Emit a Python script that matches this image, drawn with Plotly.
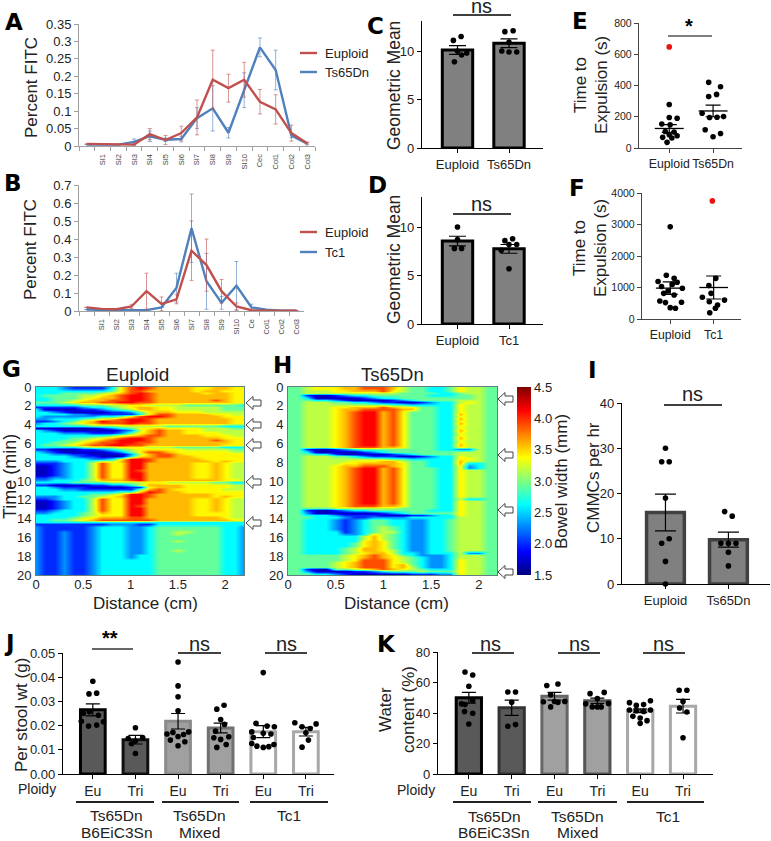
import plotly.graph_objects as go

W, H = 771, 841
FONT = "Liberation Sans"
RED, BLUE = "#C0504D", "#4F81BD"
REDP, BLUEP = "rgba(192,80,77,0.6)", "rgba(79,129,189,0.6)"

# ---- panels A / B
A_CATS = [" ", "SI1", "SI2", "SI3", "SI4", "SI5", "SI6", "SI7", "SI8", "SI9", "SI10", "Cec", "Col1", "Col2", "Col3"]
A_EU = [.006, .005, .004, .004, .034, .017, .037, .082, .19, .166, .19, .127, .105, .037, .008]
A_EU_ERR = [0, 0, 0, .002, .016, .013, .02, .05, .085, .04, .05, .035, .042, .023, .002]
A_TS = [.004, .004, .004, .012, .028, .018, .02, .08, .108, .038, .16, .283, .218, .03, .007]
A_TS_ERR = [0, 0, 0, .008, .015, .005, .008, .03, .065, .015, .05, .027, .057, .006, .004]
B_CATS = [" ", "SI1", "SI2", "SI3", "SI4", "SI5", "SI6", "SI7", "SI8", "SI9", "SI10", "Ce", "Col1", "Col2", "Col3"]
B_EU = [.02, .012, .01, .025, .11, .04, .065, .335, .255, .11, .025, .004, .002, .001, .001]
B_EU_ERR = [0, 0, 0, .012, .1, .038, .025, .165, .145, .065, .02, 0, 0, 0, 0]
B_TC = [.008, .005, .004, .004, .005, .02, .13, .46, .165, .045, .14, .02, .007, .002, .001]
B_TC_ERR = [0, 0, 0, 0, 0, 0, .08, .19, .155, .035, .135, .018, 0, 0, 0]

# ---- panels C / D
C_LABELS = ["Euploid", "Ts65Dn"]
C_MEANS = [10.1, 10.8]
C_ERR = [.45, .45]
C_PX = [.07, -.08, 0, .18, .08, -.06, 1 - .08, 1 + .08, 1, 1 - .14, 1, 1 + .15]
C_PY = [11.5, 11.1, 10, 9.8, 9.6, 8.9, 12, 12.1, 10.9, 10, 9.9, 9.9]
D_LABELS = ["Euploid", "Tc1"]
D_MEANS = [8.55, 7.75]
D_ERR = [.5, .45]
D_PX = [0, 0, -.06, .08, 1 - .08, 1 + .07, 1 + .15, 1, 1 - .15, 1]
D_PY = [10, 8.7, 7.8, 7.8, 8.6, 8.8, 8.2, 8.2, 7.6, 5.7]

# ---- panels E / F
E_PX = [0, 0, .18, -.17, .02, -.09, .11, .18, 0, -.15, .06, -.05,
        .9, 1.17, 1.08, .9, .75, .92, 1.09, 1.24, .82, 1.17, 1]
E_PY = [278, 195, 190, 153, 148, 106, 102, 78, 85, 68, 64, 36,
        420, 392, 343, 329, 222, 195, 197, 201, 117, 93, 72]
E_RED_X, E_RED_Y = [0], [647]
E_MEANS, E_ERR = [125, 237], [25, 37]
F_PX = [0, -.09, .09, -.28, .05, .16, -.2, -.05, .28, -.15, .09, -.24, -.11, .26, 0, .12,
        1.05, .89, .94, .74, 1.25, .9, 1.09, 1.04, .91]
F_PY = [2925, 1390, 1290, 1190, 1100, 1165, 1030, 890, 975, 815, 760, 570, 520, 530, 360, 340,
        1290, 1060, 815, 690, 600, 550, 445, 340, 200]
F_RED_X, F_RED_Y = [.97], [3750]
F_MEANS, F_ERR = [980, 1000], [200, 365]

# ---- panels G / H: hand-read colour levels of the kymographs, one digit per 0.1 cm, one row per 0.25 min
LEVELS = [1.7, 2.0, 2.3, 2.62, 2.92, 3.18, 3.4, 3.58, 3.9, 4.12]
G_ROWS = [
 "33321111368987777667766", "33333333468877777677666", "33344445678987777767766", "34444556789987777777766",
 "33444567789987777777766", "33445677889987777778766", "44456778899887777777766", "33333444556655554444443",
 "11111233456776655555444", "30000112345776655555444", "33210000112467766655555", "33332211111368877776655",
 "32222223346899877777666", "22333456789987777777766", "11234679889987777777766", "23345678889887777777766",
 "33333344455555444444333", "00000001234667666655544", "32100000012578776655555", "33322211124678776666555",
 "33333333456788777766655", "33334456789987777777666", "33344567899987777778766", "33445678899887777777766",
 "34456788998877777777666", "33333455566655544444333", "11000112345666665555544", "32100000124688766666655",
 "33221100002578876666666", "33332110003678877666666", "33333322369987777766666", "22233345579987777776766",
 "11123358669977777667655", "00123358669977777667655", "00123358669977777667655", "00123358669877777667655",
 "00123358669977777667655", "00123358669977777667655", "11223358669977777667655", "22333457778977777777665",
 "33334444555566555554433", "11000011223577776666655", "33211100001167776666655", "33322111111478766666555",
 "33333333344798776666666", "33333344569987777776666", "22233445679987777776766", "11233358669977777667655",
 "00123358669977777667655", "00123358669977777667655", "00123358669877777667655", "00123358669977777667655",
 "11233358669977777667655", "22333457669977777666655", "33333456669977777666655", "33334567778877777777655",
 "33445678888887777777766", "33333333333333333333333", "11111111222113333333333", "21111123332234444444332",
 "21111123332234444444332", "21121123332234455444332", "21121123332234454444332", "21121123332234444444332",
 "21121123332234444444332", "21121123332234454444332", "21121123332234444444332", "21121123332234444444332",
 "21121123332234444444332", "21121123332234454444332", "21121123332234444444332", "21121123332334444444332",
 "21121123332334444444332", "21121123333334444444332", "21121123333334444444332", "21121123333334444444332",
 "21121123333334444444332", "21121123333334444444332", "21121123333334444444332", "21121123333334444444332",
]
H_ROWS = [
 "44566677888754433465544", "44555667778654433465544", "44555555555544443345544", "44100123344444433344544",
 "44300000123344444444544", "44433210000123444455544", "44555443321100123356544", "44555555555443333365544",
 "44555667778766443365544", "44555677888877443365544", "44555678997864443365544", "44555678997864443375544",
 "44555678997864443365544", "44555678997864443375544", "44555678997864443365544", "44555678997864443375544",
 "44555678997864443365544", "44555678997864443365544", "44555678997864443375544", "44555678997864443365544",
 "44555678997864443365544", "44555678997864443375544", "44555678997864443365544", "44555678997864443365544",
 "44555678997864443375544", "44555678887764443365544", "44100123444444443322544", "44300000123444444455544",
 "44433100000123444455544", "44555443211100123365544", "44555555555443333366544", "44555556667754433375544",
 "44555566777764433373344", "44555677888764433362344", "44555678997864443362344", "44555678997864443365544",
 "44555678997864443365544", "44555678997864443365544", "44555678997864443365544", "44555678997864443365544",
 "44555678997864443365544", "44555678997864443365544", "44555678997864443365544", "44555678997864443365544",
 "44555678997864443365544", "44555678997864443365544", "44555678997864443365544", "44555678997864443353344",
 "44555678997864443365544", "44555678997864443365544", "44555678887764443365544", "44444555555544443365544",
 "44100123344444433365544", "44200000001234444465544", "44333211110001123365544", "44433321122223333355544",
 "44333212344332233455544", "44333212344332233455544", "44333212344332233455544", "44333212345432233455544",
 "44333212345432233455544", "44333312345532233455544", "44333322365432233455544", "44333333575432233455544",
 "44333333575432233455544", "44333333676432233455544", "44333334676432233455544", "44333334676432233455544",
 "44333345776432233455544", "44333345776532233455544", "44333345677533233352244", "44444456787643222355544",
 "44444456787654322355544", "44444456888654322365544", "44444567888654322365544", "44444567888674322365544",
 "44444567888675322365544", "44100445678765433365544", "44200001123444544465544", "44433210000001112265544",
]
HEAT_X = [0.1 * i for i in range(23)]
HEAT_Y = [0.125 + 0.25 * i for i in range(80)]
G_ARROW_PX = [403, 425, 445, 482, 523]
H_ARROW_PX = [399, 455, 510, 572]

# ---- panel I
I_LABELS = ["Euploid", "Ts65Dn"]
I_MEANS, I_ERR = [15.8, 9.8], [4.05, 1.65]
I_PX = [0, -.06, .06, 0, .06, -.06, 0, 0, 1 - .06, 1 + .06, 1 - .12, 1, 1 + .12, 1, 1]
I_PY = [30, 27, 27, 19, 10, 9, 5, 0, 16, 15, 9, 9, 9, 7, 4]

# ---- panels J / K
PLOIDY = ["Eu", "Tri", "Eu", "Tri", "Eu", "Tri"]
J_MEANS = [.0265, .0142, .0218, .019, .0175, .0175]
J_ERR = [.0025, .0018, .0032, .002, .0025, .0018]
J_PX = [0, -.09, .09, -.08, -.22, .13, .25, -.27, -.10, .09,
        1, 1.17, .83, 1, .91, 1,
        2, 2, 2, 2, 2.25, 1.88, 2.13, 1.74, 2, 1.82, 2.16, 2,
        3.08, 2.91, 3, 3.09, 2.88, 3.19, 2.84, 3, 2.91, 3.13,
        4, 3.83, 4.09, 4.26, 3.73, 4, 4.18, 3.77, 3.73, 4.25, 3.85, 4, 4.13,
        4.74, 4.91, 5.24, 5.10, 5, 5.06, 4.91]
J_PY = [.0383, .0331, .0334, .0257, .025, .0243, .0216, .0218, .0198, .0202,
        .0191, .0151, .0147, .0136, .0125, .0085,
        .0463, .0364, .0319, .0261, .0174, .0172, .0163, .0165, .0155, .014, .0133, .0117,
        .0284, .0268, .0225, .0205, .0177, .0154, .015, .0143, .011, .0122,
        .0419, .0209, .0198, .0195, .0174, .0168, .0165, .0151, .0126, .0122, .0115, .011, .0113,
        .0212, .0195, .0207, .0188, .017, .014, .0111]
K_MEANS = [50, 43.5, 51, 48, 41.5, 44.5]
K_ERR = [3.5, 5, 2.5, 1.7, 1.2, 4.5]
K_PX = [-.09, .09, 0, .09, -.17, -.09, -.1, .09, 0,
        .91, 1.09, 1, .91, 1.09,
        1.82, 2.08, 1.91, 1.74, 2, 2.08, 2.24, 1.91,
        2.83, 3.16, 3, 2.73, 2.88, 3, 3.26, 3.09,
        3.75, 3.91, 4.08, 4.24, 3.75, 3.91, 4.08, 4.24, 3.83, 4, 4.16, 4,
        4.91, 5.09, 5, 4.92, 5.09, 5]
K_PY = [66.9, 64.9, 57.5, 48.2, 46, 45.5, 41, 39.8, 32.8,
        53.8, 53.8, 47, 31.3, 32.4,
        58, 59, 52, 47.4, 47.5, 47, 47.6, 44,
        52.7, 53.5, 49.4, 46, 44, 44, 46.3, 44,
        46.8, 45, 45.5, 48, 42, 41.5, 41, 42, 37.8, 36.7, 35, 33.2,
        54.9, 54.9, 47.6, 43.3, 40.7, 23.8]
PLOIDY_FILL = ["#595959", "#595959", "#a0a0a0", "#a0a0a0", "#ffffff", "#ffffff"]
PLOIDY_EDGE_J = ["#000000", "#111111", "#8a8a8a", "#707070", "#a8a8a8", "#a8a8a8"]
PLOIDY_EDGE_K = ["#000000", "#333333", "#666666", "#555555", "#a8a8a8", "#a8a8a8"]

JET = [[0, "#00007f"], [.125, "#0000ff"], [.375, "#00ffff"], [.625, "#ffff00"], [.875, "#ff0000"], [1, "#7f0000"]]

fig = go.Figure()
layout = dict(width=W, height=H, margin=dict(l=0, r=0, t=0, b=0, autoexpand=False), showlegend=False,
              paper_bgcolor="white", plot_bgcolor="rgba(0,0,0,0)",
              font=dict(family=FONT, color="#222222", size=13))
shapes, annots = [], []


def fx(p):
    return p / W


def fy(p):
    return 1 - p / H


def add_axes(n, x0, x1, top, bot, xopts, yopts):
    s = "" if n == 1 else str(n)
    xo = dict(domain=[fx(x0), fx(x1)], anchor="y" + s, showgrid=False, zeroline=False)
    yo = dict(domain=[fy(bot), fy(top)], anchor="x" + s, showgrid=False, zeroline=False)
    xo.update(xopts)
    yo.update(yopts)
    layout["xaxis" + s] = xo
    layout["yaxis" + s] = yo
    return "x" + s, "y" + s


def text(t, x, y, size=13, angle=0, bold=False, color="#222222", anchor="center", family=FONT):
    annots.append(dict(text="<b>%s</b>" % t if bold else t, x=fx(x), y=fy(y), xref="paper", yref="paper",
                       showarrow=False, xanchor=anchor, yanchor="middle", textangle=angle,
                       font=dict(family=family, size=size, color=color)))


def pxline(x0, y0, x1, y1, color="#000000", width=1.3):
    shapes.append(dict(type="line", xref="paper", yref="paper", x0=fx(x0), x1=fx(x1), y0=fy(y0), y1=fy(y1),
                       line=dict(color=color, width=width)))


def arrow(x0, x1, y):
    n = x0 + 7
    pts = [(x0, y), (n, y - 6.5), (n, y - 3), (x1, y - 3), (x1, y + 3), (n, y + 3), (n, y + 6.5)]
    d = "M " + " L ".join("%.5f,%.5f" % (fx(a), fy(b)) for a, b in pts) + " Z"
    shapes.append(dict(type="path", xref="paper", yref="paper", path=d, fillcolor="white",
                       line=dict(color="#444444", width=1)))


def line_panel(n, box, cats, s1, e1, c1, p1, s2, e2, c2, p2, ymax, ticks, ticktext):
    xa, ya = add_axes(n, box[0], box[1], box[2], box[3],
                      dict(type="category", categoryorder="array", categoryarray=cats, tickson="boundaries",
                           range=[-.5, 14.5], showline=True, linecolor="#a0a0a0", linewidth=1, ticks="outside",
                           ticklen=4, tickcolor="#a0a0a0", tickangle=-90, tickmode="array", tickvals=cats, ticktext=cats,
                           tickfont=dict(size=7.5, color="#444444"), ticklabelstandoff=4),
                      dict(range=[0, ymax], showline=True, linecolor="#a0a0a0", linewidth=1, ticks="outside", ticklen=4,
                           tickcolor="#a0a0a0", tickvals=ticks, ticktext=ticktext, tickfont=dict(size=13)))
    for s, e, c, p in ((s2, e2, c2, p2), (s1, e1, c1, p1)):
        fig.add_trace(go.Scatter(x=cats, y=s, mode="lines", xaxis=xa, yaxis=ya, line=dict(color=c, width=2.4),
                                 error_y=dict(type="data", array=e, color=p, thickness=1, width=2)))


def bar_panel(n, box, xr, labels, means, errs, fills, edges, bw, lw, capw, ymax, ticks, ticktext,
              px_, py_, tick_size, standoff, msize=5.6, tick_y=13):
    xs = list(range(len(means)))
    xa, ya = add_axes(n, box[0], box[1], box[2], box[3],
                      dict(range=xr, showline=True, linecolor="#000000", linewidth=1.4, ticks="outside", ticklen=4,
                           tickwidth=1.2, tickcolor="#000000", tickvals=xs, ticktext=labels, tickangle=0,
                           tickfont=dict(size=tick_size), ticklabelstandoff=standoff),
                      dict(range=[0, ymax], showline=True, linecolor="#000000", linewidth=1.4, ticks="outside", ticklen=4,
                           tickwidth=1.2, tickcolor="#000000", tickvals=ticks, ticktext=ticktext,
                           tickfont=dict(size=tick_y)))
    fig.add_trace(go.Bar(x=xs, y=means, xaxis=xa, yaxis=ya, width=bw,
                         marker=dict(color=fills, line=dict(color=edges, width=lw)),
                         error_y=dict(type="data", array=errs, color="#000000", thickness=1.2, width=capw)))
    fig.add_trace(go.Scatter(x=px_, y=py_, mode="markers", xaxis=xa, yaxis=ya, cliponaxis=False,
                             marker=dict(color="#000000", size=msize)))


def dot_panel(n, box, xr, labels, means, errs, ymax, ticks, px_, py_, rx, ry):
    xa, ya = add_axes(n, box[0], box[1], box[2], box[3],
                      dict(range=xr, showline=True, linecolor="#444444", linewidth=1.4, ticks="outside", ticklen=4,
                           tickcolor="#444444", tickvals=[0, 1], ticktext=labels, tickangle=0, tickfont=dict(size=12.3),
                           ticklabelstandoff=0),
                      dict(range=[0, ymax], showline=True, linecolor="#444444", linewidth=1.4, ticks="outside", ticklen=4,
                           tickcolor="#444444", tickvals=ticks, tickfont=dict(size=10.5)))
    fig.add_trace(go.Scatter(x=px_, y=py_, mode="markers", xaxis=xa, yaxis=ya, cliponaxis=False,
                             marker=dict(color="#000000", size=5.6)))
    fig.add_trace(go.Scatter(x=rx, y=ry, mode="markers", xaxis=xa, yaxis=ya, cliponaxis=False,
                             marker=dict(color="#ee1111", size=5.6)))
    for i, (m, e) in enumerate(zip(means, errs)):
        fig.add_trace(go.Scatter(x=[i - .33, i + .33], y=[m, m], mode="lines", xaxis=xa, yaxis=ya,
                                 line=dict(color="#000000", width=1.3)))
        fig.add_trace(go.Scatter(x=[i], y=[m], mode="markers", xaxis=xa, yaxis=ya, marker=dict(size=1, color="#000000"),
                                 error_y=dict(type="data", array=[e], color="#000000", thickness=1.2, width=7.5)))


def heat_panel(n, box, rows, xmax, xlabel_x, colorbar=False):
    z = [[LEVELS[int(c)] for c in r.ljust(23, r[-1])[:23]] for r in rows]
    xa, ya = add_axes(n, box[0], box[1], box[2], box[3],
                      dict(range=[0, xmax], showline=True, mirror=True, linecolor="#5f7f80", linewidth=1,
                           tickvals=[0, .5, 1, 1.5, 2], ticktext=["0", "0.5", "1", "1.5", "2"], ticks="", tickangle=0,
                           tickfont=dict(size=13), ticklabelstandoff=-3),
                      dict(range=[20, 0], showline=True, mirror=True, linecolor="#5f7f80", linewidth=1,
                           tickvals=list(range(0, 21, 2)), ticks="", tickfont=dict(size=13), ticklabelstandoff=1))
    tr = dict(x=HEAT_X, y=HEAT_Y, z=z, xaxis=xa, yaxis=ya, colorscale=JET, zmin=1.5, zmax=4.5, zsmooth="best",
              showscale=colorbar)
    if colorbar:
        tr["colorbar"] = dict(x=fx(517), xanchor="left", y=fy(575), yanchor="bottom", len=188, lenmode="pixels",
                              thickness=14, thicknessmode="pixels", xpad=0, ypad=0, outlinewidth=0,
                              tickvals=[1.5, 2, 2.5, 3, 3.5, 4, 4.5], ticktext=["1.5", "2.0", "2.5", "3.0", "3.5", "4.0", "4.5"],
                              ticks="", tickfont=dict(size=13, family=FONT))
    fig.add_trace(go.Heatmap(**tr))
    text("Distance (cm)", xlabel_x, 603, size=17)


# A, B
line_panel(1, (79, 315, 24, 146), A_CATS, A_EU, A_EU_ERR, RED, REDP, A_TS, A_TS_ERR, BLUE, BLUEP, .35,
           [0, .05, .1, .15, .2, .25, .3, .35], ["0", "0.05", "0.1", "0.15", "0.2", "0.25", "0.3", "0.35"])
line_panel(2, (79, 304, 185, 311), B_CATS, B_EU, B_EU_ERR, RED, REDP, B_TC, B_TC_ERR, BLUE, BLUEP, .7,
           [0, .1, .2, .3, .4, .5, .6, .7], ["0", "0.1", "0.2", "0.3", "0.4", "0.5", "0.6", "0.7"])
text("Percent FITC", 31, 88, size=17, angle=-90)
text("Percent FITC", 31, 250, size=17, angle=-90)
for (lab, col, y) in (("Euploid", RED, 53), ("Ts65Dn", BLUE, 72), ("Euploid", RED, 232), ("Tc1", BLUE, 252)):
    pxline(300, y, 317, y, color=col, width=2.4)
    text(lab, 323, y, size=13, anchor="left")

# C, D
GR = ["#808080", "#808080"]
BK = ["#000000", "#000000"]
bar_panel(3, (422, 543, 21, 148), [-.689, 1.66], C_LABELS, C_MEANS, C_ERR, GR, BK, .59, 3, 8.5, 13.1, [0, 5, 10],
          ["0", "5", "10"], C_PX, C_PY, 13, 0)
bar_panel(4, (422, 543, 197, 324), [-.689, 1.66], D_LABELS, D_MEANS, D_ERR, GR, BK, .59, 3, 8.5, 13.1, [0, 5, 10],
          ["0", "5", "10"], D_PX, D_PY, 13, 0)
text("Geometric Mean", 394, 85, size=17.5, angle=-90)
text("Geometric Mean", 394, 259, size=17.5, angle=-90)
pxline(453, 15, 511, 15)
text("ns", 481, 6, size=20)
pxline(453, 214, 511, 214)
text("ns", 481, 204, size=20)

# E, F
dot_panel(5, (639, 742, 23, 148), [-.69, 1.66], ["Euploid", "Ts65Dn"], E_MEANS, E_ERR, 800, [0, 200, 400, 600, 800],
          E_PX, E_PY, E_RED_X, E_RED_Y)
dot_panel(6, (642, 741, 193, 319), [-.65, 1.63], ["Euploid", "Tc1"], F_MEANS, F_ERR, 4000, [0, 1000, 2000, 3000, 4000],
          F_PX, F_PY, F_RED_X, F_RED_Y)
for cy in (85, 248):
    text("Time to", 580, cy, size=17, angle=-90)
    text("Expulsion (s)", 601, cy, size=17, angle=-90)
pxline(668, 36, 712, 36, color="#555555", width=1.4)
text("*", 689, 26, size=20, bold=True, color="#000000")

# G, H
heat_panel(7, (36, 244, 387, 575), G_ROWS, 2.2, 145)
heat_panel(8, (288, 497, 387, 575), H_ROWS, 2.19, 397, colorbar=True)
text("Time (min)", 10, 477, size=18, angle=-90)
text("Euploid", 137, 375, size=19)
text("Ts65Dn", 392, 375, size=18.5)
text("Bowel width (mm)", 562, 482, size=17, angle=-90)
for y in G_ARROW_PX:
    arrow(246, 261, y)
for y in H_ARROW_PX:
    arrow(498, 513, y)

# I
bar_panel(9, (622, 770, 403, 584), [-.69, 1.66], I_LABELS, I_MEANS, I_ERR, GR, ["#404040", "#404040"], .6, 3.5, 10.5, 40,
          [0, 10, 20, 30, 40], ["0", "10", "20", "30", "40"], I_PX, I_PY, 13, 0)
text("CMMCs per hr", 593, 478, size=17, angle=-90)
pxline(664, 405, 722, 405)
text("ns", 692, 394, size=20)

# J, K
bar_panel(10, (63, 334, 653, 774), [-.70, 5.66], PLOIDY, J_MEANS, J_ERR, PLOIDY_FILL, PLOIDY_EDGE_J, .58, 3, 7, .05,
          [0, .01, .02, .03, .04, .05], ["0.00", "0.01", "0.02", "0.03", "0.04", "0.05"], J_PX, J_PY, 14, 0, tick_y=13)
bar_panel(11, (438, 713, 652, 774), [-.72, 5.70], PLOIDY, K_MEANS, K_ERR, PLOIDY_FILL, PLOIDY_EDGE_K, .59, 3, 7, 80,
          [0, 20, 40, 60, 80], ["0", "20", "40", "60", "80"], K_PX, K_PY, 14, 0, tick_y=13)
text("Per stool wt (g)", 21, 715, size=17, angle=-90)
text("Water", 385, 710, size=17, angle=-90)
text("content (%)", 408, 710, size=17, angle=-90)
text("**", 110, 638, size=20, bold=True, color="#000000")
pxline(92, 649, 133, 649, color="#333333")
for a, b, c in ((178, 221, 199), (265, 307, 286)):
    pxline(a, 653, b, 653)
    text("ns", c, 644, size=20)
for c, a, b in ((491, 472, 514), (579, 558, 600), (663, 643, 685)):
    pxline(a, 653, b, 653)
    text("ns", c, 644, size=20)
text("Ploidy", 37, 789, size=14)
text("Ploidy", 416, 790, size=14)
for a, b in ((76, 154), (162, 239), (250, 328), (453, 531), (538, 617), (627, 704)):
    pxline(a, 802, b, 802, color="#222222", width=2)
for t, x, y in (("Ts65Dn", 117, 815), ("B6EiC3Sn", 117, 832), ("Ts65Dn", 199, 815), ("Mixed", 199, 832), ("Tc1", 289, 815),
                ("Ts65Dn", 494, 816), ("B6EiC3Sn", 494, 832), ("Ts65Dn", 577, 816), ("Mixed", 577, 832), ("Tc1", 668, 816)):
    text(t, x, y, size=15.5)

# panel letters
for t, x, y in (("A", 14, 22), ("B", 13, 183), ("C", 375, 26), ("D", 377, 185), ("E", 580, 21), ("F", 577, 188),
                ("G", 11, 369), ("H", 282, 365), ("I", 592, 370), ("J", 9, 643), ("K", 386, 644)):
    text(t, x, y, size=23, bold=True, color="#000000", family="DejaVu Sans")

layout["shapes"] = shapes
layout["annotations"] = annots
fig.update_layout(**layout)
fig.write_html("out.html", config={"displayModeBar": False},
               post_script="document.body.style.margin='0';document.body.style.overflow='hidden';")
